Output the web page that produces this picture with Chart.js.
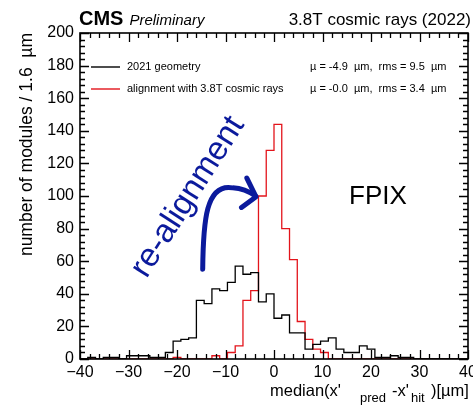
<!DOCTYPE html>
<html lang="en">
<head>
  <meta charset="UTF-8">
  <script src="https://cdn.jsdelivr.net/npm/chart.js"></script>
  <style>
    html, body { margin: 0; padding: 0; background: #fff; }
    #chart { display: block; }
  </style>
</head>
<body>
  <canvas id="chart" width="473" height="406"></canvas>
  <script>
    // 50 bins of 1.6 um between -40 and 40 um
    const binStart = -40;
    const binWidth = 1.6;

    // modules per bin
    const geometry2021 = [0, 1, 0, 1, 1, 0, 2, 2, 2, 1,
                          1, 4, 11, 12, 13, 36, 34, 43, 42, 47,
                          57, 52, 53, 35, 40, 25, 27, 16, 16, 6,
                          9, 11, 13, 6, 4, 4, 8, 6, 1, 1,
                          2, 1, 1, 0, 0, 0, 0, 0, 0, 0];
    const alignment38T = [0, 0, 0, 0, 0, 0, 0, 0, 0, 0,
                          0, 0, 1, 0, 0, 0, 0, 2, 0, 4,
                          8, 36, 42, 100, 128, 144, 80, 61, 23, 12,
                          6, 4, 0, 0, 0, 0, 0, 0, 0, 0,
                          0, 0, 0, 0, 0, 0, 0, 0, 0, 0];

    const legendLabels = ['2021 geometry', 'alignment with 3.8T cosmic rays'];
    const legendStats = ['\u00b5 = -4.9  \u00b5m,  rms = 9.5  \u00b5m', '\u00b5 = -0.0  \u00b5m,  rms = 3.4  \u00b5m'];
    const seriesColors = ['#000000', '#e3141b'];

    const FONT = "'Liberation Sans', Arial, Helvetica, sans-serif";
    const handBlue = '#0b1a9c';

    function histPoints(values) {
      const pts = values.map((v, i) => ({ x: binStart + i * binWidth, y: v }));
      pts.push({ x: binStart + values.length * binWidth, y: 0 });
      return pts;
    }

    // frame, inward ticks, legend and texts
    const decorations = {
      id: 'decorations',
      afterDatasetsDraw(chart) {
        const { ctx, chartArea: a, scales: { x, y } } = chart;
        ctx.save();

        // inward ticks on all four sides
        ctx.strokeStyle = '#000';
        ctx.lineWidth = 1.3;
        ctx.beginPath();
        for (let v = -40; v <= 40; v += 2) {
          const px = Math.round(x.getPixelForValue(v)) + 0.5;
          const len = v % 10 === 0 ? 9 : 5;
          ctx.moveTo(px, a.bottom); ctx.lineTo(px, a.bottom - len);
          ctx.moveTo(px, a.top); ctx.lineTo(px, a.top + len);
        }
        for (let v = 0; v <= 200; v += 4) {
          const py = Math.round(y.getPixelForValue(v)) + 0.5;
          const len = v % 20 === 0 ? 9 : 5;
          ctx.moveTo(a.left, py); ctx.lineTo(a.left + len, py);
          ctx.moveTo(a.right, py); ctx.lineTo(a.right - len, py);
        }
        ctx.stroke();

        ctx.lineWidth = 1.6;
        ctx.strokeRect(a.left, a.top, a.right - a.left, a.bottom - a.top);

        // legend
        ctx.font = '11px ' + FONT;
        ctx.textBaseline = 'middle';
        ctx.lineWidth = 1.4;
        [67, 89].forEach((ly, i) => {
          ctx.strokeStyle = seriesColors[i];
          ctx.beginPath();
          ctx.moveTo(91, ly); ctx.lineTo(120, ly);
          ctx.stroke();
          ctx.fillStyle = '#000';
          ctx.textAlign = 'left';
          ctx.fillText(legendLabels[i], 127, ly);
          ctx.fillText(legendStats[i], 310, ly);
        });

        // FPIX label
        ctx.font = '26px ' + FONT;
        ctx.textBaseline = 'alphabetic';
        ctx.fillStyle = '#000';
        ctx.fillText('FPIX', 349, 204);

        // hand-drawn annotation: text and curved arrow
        const P = (xv, yv) => [x.getPixelForValue(xv), y.getPixelForValue(yv)];
        ctx.save();
        const [tx, ty] = P(-26.3, 49);
        ctx.translate(tx, ty);
        ctx.rotate(-57.5 * Math.PI / 180);
        ctx.font = '33px ' + FONT;
        ctx.fillStyle = handBlue;
        ctx.textAlign = 'left';
        ctx.fillText('re-alignment', 0, 0);
        ctx.restore();

        ctx.strokeStyle = handBlue;
        ctx.lineWidth = 5;
        ctx.lineCap = 'round';
        ctx.lineJoin = 'round';
        ctx.beginPath();
        ctx.moveTo(...P(-14.7, 55));
        ctx.bezierCurveTo(...P(-14.6, 85), ...P(-14.0, 108), ...P(-8.5, 105));
        ctx.quadraticCurveTo(...P(-6, 104.5), ...P(-3.8, 100));
        ctx.stroke();
        ctx.beginPath();
        ctx.moveTo(...P(-5.6, 111));
        ctx.lineTo(...P(-3.7, 99.5));
        ctx.lineTo(...P(-6.7, 93));
        ctx.stroke();

        ctx.restore();
      },
      afterDraw(chart) {
        const { ctx } = chart;
        ctx.save();
        ctx.fillStyle = '#000';
        ctx.textBaseline = 'alphabetic';

        // header
        ctx.textAlign = 'left';
        ctx.font = 'bold 20px ' + FONT;
        ctx.fillText('CMS', 79, 25);
        const cmsW = ctx.measureText('CMS').width;
        ctx.font = 'italic 15px ' + FONT;
        ctx.fillText('Preliminary', 79 + cmsW + 6, 25);
        ctx.textAlign = 'right';
        ctx.font = '17px ' + FONT;
        ctx.fillText('3.8T cosmic rays (2022)', 471, 25);

        // y title
        ctx.save();
        ctx.translate(32, 33);
        ctx.rotate(-Math.PI / 2);
        ctx.textAlign = 'right';
        ctx.font = '17.5px ' + FONT;
        ctx.fillText('number of modules / 1.6  \u00b5m', 0, 0);
        ctx.restore();

        // x title with subscripts, ROOT-like spacing
        const parts = [
          { t: "median(x'", sub: false, at: 270 },
          { t: 'pred', sub: true, at: 360 },
          { t: "-x'", sub: false, at: 392 },
          { t: 'hit', sub: true, at: 411 },
          { t: ')[\u00b5m]', sub: false, at: 431 }
        ];
        ctx.textAlign = 'left';
        parts.forEach(p => {
          ctx.font = p.sub ? '13px ' + FONT : '16.5px ' + FONT;
          ctx.fillText(p.t, p.at, p.sub ? 402 : 396);
        });
        ctx.restore();
      }
    };

    new Chart(document.getElementById('chart'), {
      type: 'line',
      data: {
        datasets: [
          {
            label: legendLabels[0],
            data: histPoints(geometry2021),
            borderColor: seriesColors[0],
            borderWidth: 1.3,
            stepped: true,
            pointRadius: 0,
            fill: false
          },
          {
            label: legendLabels[1],
            data: histPoints(alignment38T),
            borderColor: seriesColors[1],
            borderWidth: 1.3,
            stepped: true,
            pointRadius: 0,
            fill: false
          }
        ]
      },
      options: {
        responsive: false,
        devicePixelRatio: 1,
        animation: false,
        layout: { padding: { top: 33, right: 5, left: 0, bottom: 0 } },
        plugins: { legend: { display: false }, tooltip: { enabled: false } },
        scales: {
          x: {
            type: 'linear',
            min: -40,
            max: 40,
            border: { display: false },
            grid: { display: false, drawTicks: false },
            ticks: {
              stepSize: 10,
              autoSkip: false,
              maxRotation: 0,
              padding: 4,
              color: '#000',
              font: { family: FONT, size: 16 },
              callback: v => String(v).replace('-', '\u2212')
            },
            afterFit: s => { s.height = 47; s.paddingLeft = 0; s.paddingRight = 0; }
          },
          y: {
            min: 0,
            max: 200,
            border: { display: false },
            grid: { display: false, drawTicks: false },
            ticks: {
              stepSize: 20,
              padding: 6,
              color: '#000',
              font: { family: FONT, size: 16 }
            },
            afterFit: s => { s.width = 80; s.paddingTop = 0; s.paddingBottom = 0; }
          }
        }
      },
      plugins: [decorations]
    });
  </script>
</body>
</html>
